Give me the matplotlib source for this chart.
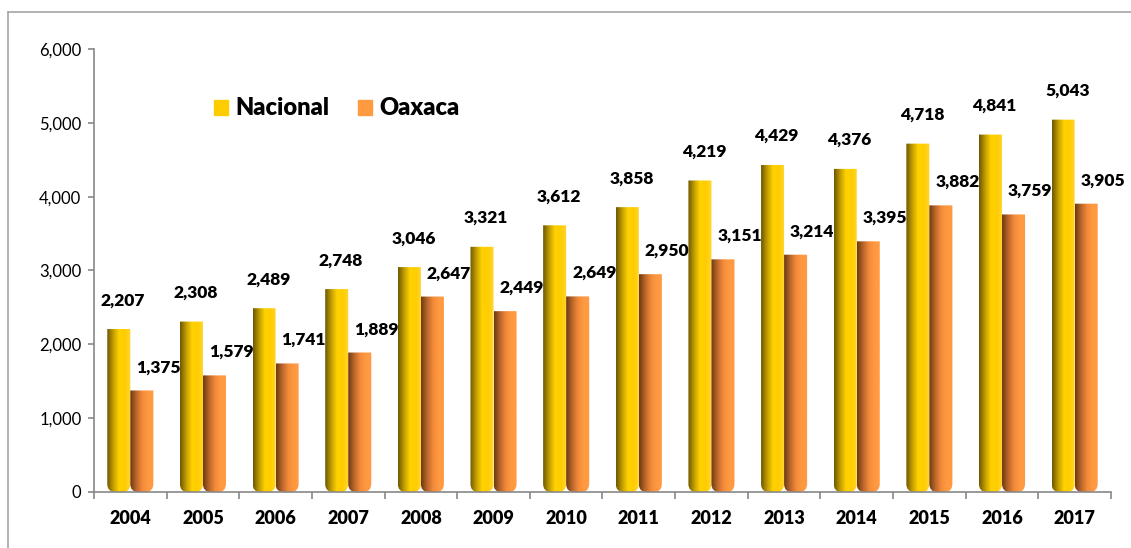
import numpy as np
import matplotlib
matplotlib.use('Agg')
import matplotlib.pyplot as plt
from matplotlib.colors import LinearSegmentedColormap
from matplotlib.lines import Line2D
from matplotlib.patches import Patch, PathPatch
from matplotlib.path import Path

years = ['2004', '2005', '2006', '2007', '2008', '2009', '2010',
         '2011', '2012', '2013', '2014', '2015', '2016', '2017']
nacional = [2207, 2308, 2489, 2748, 3046, 3321, 3612, 3858, 4219, 4429, 4376, 4718, 4841, 5043]
oaxaca = [1375, 1579, 1741, 1889, 2647, 2449, 2649, 2950, 3151, 3214, 3395, 3882, 3759, 3905]

plt.rcParams['font.family'] = ['Lato', 'DejaVu Sans']

fig = plt.figure(figsize=(11.31, 5.48), dpi=100)
ax = fig.add_axes([0.0831, 0.1022, 0.8992, 0.8084])

# marco gris de arriba y de la izquierda
fig.add_artist(Line2D([8/1131, 1], [1-12/548, 1-12/548], transform=fig.transFigure, color='#a6a6a6', lw=1.2))
fig.add_artist(Line2D([8/1131, 8/1131], [0, 1-12/548], transform=fig.transFigure, color='#a6a6a6', lw=1.2))

cm_nac = LinearSegmentedColormap.from_list('nac', ['#6e5800', '#c09b00', '#ffd200', '#ffcc00', '#ffd633'])
cm_oax = LinearSegmentedColormap.from_list('oax', ['#6e3a10', '#b8652a', '#f2893a', '#ff9a40', '#ff9a45'])

x = np.arange(len(years))
w = 0.317
grad = np.linspace(0, 1, 64).reshape(1, -1)
rx, ry = 0.11, 110  # redondeo de la base (~8 px)

def rounded_path(x0, x1, top):
    verts = [(x0, top), (x0, ry), (x0, 0), (x0 + rx, 0), (x1 - rx, 0),
             (x1, 0), (x1, ry), (x1, top), (x0, top)]
    codes = [Path.MOVETO, Path.LINETO, Path.CURVE3, Path.CURVE3, Path.LINETO,
             Path.CURVE3, Path.CURVE3, Path.LINETO, Path.CLOSEPOLY]
    return Path(verts, codes)

def shaded_bars(xs, vals, cmap):
    bars = ax.bar(xs, vals, w, color='none', edgecolor='none')
    for b in bars:
        x0, top = b.get_x(), b.get_height()
        clip = PathPatch(rounded_path(x0, x0 + w, top), transform=ax.transData,
                         facecolor='none', edgecolor='none')
        ax.add_patch(clip)
        im = ax.imshow(grad, cmap=cmap, aspect='auto',
                       extent=[x0, x0 + w, 0, top], zorder=2)
        im.set_clip_path(clip)
    return bars

shaded_bars(x - w/2, nacional, cm_nac)
shaded_bars(x + w/2, oaxaca, cm_oax)

for i in range(len(years)):
    ax.annotate(f'{nacional[i]:,}', (x[i] - w/2, nacional[i]), xytext=(3, 15),
                textcoords='offset points', ha='center', va='bottom',
                fontsize=12.5, fontweight='heavy')
    ax.annotate(f'{oaxaca[i]:,}', (x[i] + w/2, oaxaca[i]), xytext=(12, 11),
                textcoords='offset points', ha='center', va='bottom',
                fontsize=12.5, fontweight='heavy')

ax.set_xlim(-0.5, len(years) - 0.5)
ax.set_ylim(0, 6000)
ax.set_yticks(np.arange(0, 6001, 1000))
ax.set_yticklabels([f'{v:,}' for v in range(0, 6001, 1000)], fontsize=12)
ax.set_xticks(x)
ax.set_xticklabels(years, fontsize=13, fontweight='heavy')
ax.set_xticks(np.arange(-0.5, len(years)), minor=True)
ax.tick_params(axis='x', which='major', length=0, pad=13)
ax.tick_params(axis='x', which='minor', length=5, color='#888888', width=1.2)
ax.tick_params(axis='y', length=4, color='#888888', width=1.2, pad=5)

for s in ['top', 'right']:
    ax.spines[s].set_visible(False)
for s in ['left', 'bottom']:
    ax.spines[s].set_color('#888888')
    ax.spines[s].set_linewidth(1.2)

handles = [Patch(color='#ffcc00', label='Nacional'), Patch(color='#ff9a40', label='Oaxaca')]
ax.legend(handles=handles, loc='upper left', bbox_to_anchor=(0.109, 0.912), ncol=2,
          frameon=False, prop={'weight': 'heavy', 'size': 17},
          handlelength=0.6, handleheight=0.6, handletextpad=0.3, columnspacing=1.2,
          borderaxespad=0)

fig.savefig('out.png', dpi=100)
